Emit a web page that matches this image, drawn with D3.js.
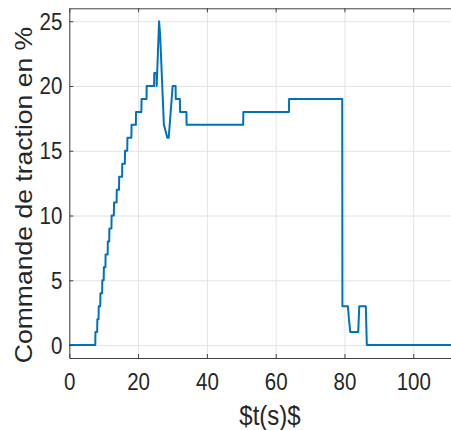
<!DOCTYPE html>
<html>
<head>
<meta charset="utf-8">
<script src="https://cdn.jsdelivr.net/npm/d3@7"></script>
<style>
  html, body { margin: 0; padding: 0; background: #fff; overflow: hidden; }
  svg { display: block; }
</style>
</head>
<body>
<svg id="chart" width="451" height="430"></svg>
<script>
// ---- data ----
const timeValues = [0, 7.55, 7.6, 8.1, 8.15, 8.5, 8.55, 9.0, 9.05, 9.55, 9.6, 10.0, 10.05, 10.5, 10.55, 11.15,
  11.2, 11.6, 11.65, 12.25, 12.3, 12.95, 13.0, 13.75, 13.8, 14.45, 14.5, 15.35, 15.4, 16.15, 16.2, 16.85,
  16.9, 18.05, 18.1, 19.35, 19.4, 20.95, 21.0, 22.45, 22.5, 24.65, 24.7, 25.35, 25.4, 26.1, 26.4, 27.5,
  28.5, 28.9, 30.05, 30.9, 30.95, 32.15, 32.2, 34.05, 34.1, 50.55, 50.6, 63.85, 63.9, 79.35, 79.4, 81.0,
  81.3, 81.7, 84.0, 84.3, 86.2, 86.5, 117];
const commandValues = [0, 0, 1, 1, 2, 2, 3, 3, 4, 4, 5, 5, 6, 6, 7, 7,
  8, 8, 9, 9, 10, 10, 11, 11, 12, 12, 13, 13, 14, 14, 15, 15,
  16, 16, 17, 17, 18, 18, 19, 19, 20, 20, 21, 21, 20, 25, 24, 17,
  16, 16, 20, 20, 19, 19, 18, 18, 17, 17, 18, 18, 19, 19, 3, 3,
  2, 1, 1, 3, 3, 0, 0];
const xTicks = [0, 20, 40, 60, 80, 100];
const yTicks = [0, 5, 10, 15, 20, 25];
const xDomain = [0, 116.7];
const yDomain = [-1, 26];
const xLabel = "$t(s)$";
const yLabel = "Commande de traction en %";

// ---- layout ----
const L = 69.3, T = 8.3, R = 470.7, B = 358;
const stretch = 1.14;
const font = "'Liberation Sans', Arial, Helvetica, sans-serif";
const ink = "#262626";

const svg = d3.select("#chart");
const x = d3.scaleLinear().domain(xDomain).range([L, R]);
const y = d3.scaleLinear().domain(yDomain).range([B, T]);

// grid
svg.append("g").attr("transform", `translate(0,${B})`)
  .call(d3.axisBottom(x).tickValues(xTicks).tickSize(-(B - T)).tickFormat(""))
  .call(g => g.select(".domain").remove())
  .call(g => g.selectAll("line").attr("stroke", "#e3e3e3").attr("stroke-width", 1));
svg.append("g").attr("transform", `translate(${L},0)`)
  .call(d3.axisLeft(y).tickValues(yTicks).tickSize(-(R - L)).tickFormat(""))
  .call(g => g.select(".domain").remove())
  .call(g => g.selectAll("line").attr("stroke", "#e3e3e3").attr("stroke-width", 1));

// data line
const pts = timeValues.map((t, i) => [t, commandValues[i]]);
svg.append("path")
  .datum(pts)
  .attr("fill", "none")
  .attr("stroke", "#0072BD")
  .attr("stroke-width", 2)
  .attr("stroke-linejoin", "round")
  .attr("d", d3.line().x(d => x(d[0])).y(d => y(d[1])));

// bottom axis
const gx = svg.append("g").attr("transform", `translate(0,${B})`)
  .call(d3.axisBottom(x).tickValues(xTicks).tickSizeInner(-4).tickSizeOuter(0).tickFormat(d3.format("d")));
gx.select(".domain").attr("stroke", "#404040");
gx.selectAll(".tick line").attr("stroke", "#404040");
gx.selectAll("text")
  .attr("y", null).attr("dy", null)
  .attr("fill", ink)
  .attr("font-family", font).attr("font-size", 20.5)
  .attr("transform", `translate(0,32) scale(1,${stretch})`);

// top axis (box)
const gt = svg.append("g").attr("transform", `translate(0,${T})`)
  .call(d3.axisTop(x).tickValues(xTicks).tickSizeInner(-4).tickSizeOuter(0).tickFormat(""));
gt.select(".domain").attr("stroke", "#404040");
gt.selectAll(".tick line").attr("stroke", "#404040");

// left axis
const gy = svg.append("g").attr("transform", `translate(${L},0)`)
  .call(d3.axisLeft(y).tickValues(yTicks).tickSizeInner(-4).tickSizeOuter(0).tickFormat(d3.format("d")));
gy.select(".domain").attr("stroke", "#404040");
gy.selectAll(".tick line").attr("stroke", "#404040");
gy.selectAll("text")
  .attr("x", null).attr("dy", null)
  .attr("fill", ink)
  .attr("font-family", font).attr("font-size", 20.5)
  .attr("text-anchor", "end")
  .attr("dominant-baseline", "central")
  .attr("transform", `translate(-7,0) scale(1,${stretch})`);

// axis labels
svg.append("text")
  .attr("transform", `translate(270,424.5) scale(1,${stretch})`)
  .attr("text-anchor", "middle")
  .attr("font-family", font).attr("font-size", 24)
  .attr("fill", ink)
  .text(xLabel);

svg.append("text")
  .attr("transform", `translate(31.5,195) rotate(-90) scale(${stretch},1)`)
  .attr("text-anchor", "middle")
  .attr("font-family", font).attr("font-size", 23.3)
  .attr("fill", ink)
  .text(yLabel);
</script>
</body>
</html>
